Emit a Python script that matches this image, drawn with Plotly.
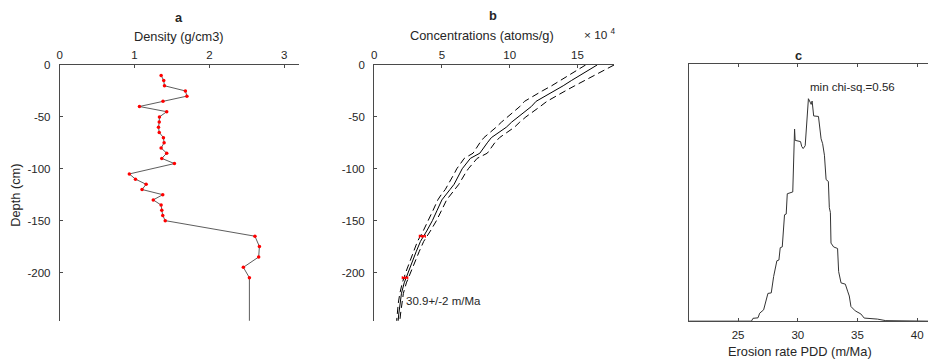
import plotly.graph_objects as go

# ---------------- data ----------------
# panel a: density profile
dens_depth = [-10, -15, -20, -25, -30, -35, -40, -45, -50, -55, -60, -65, -70, -75, -80, -85,
              -90, -95, -105, -110, -115, -120, -125, -130, -135, -140, -145, -150, -165, -175,
              -185, -195, -205]
dens_val = [1.355, 1.39, 1.40, 1.68, 1.70, 1.38, 1.065, 1.43, 1.333, 1.33, 1.32, 1.33, 1.386, 1.395,
            1.355, 1.43, 1.364, 1.533, 0.93, 1.012, 1.155, 1.10, 1.377, 1.25, 1.355, 1.364, 1.377,
            1.41, 2.61, 2.67, 2.66, 2.455, 2.536]
dens_tail_depth = [-250]
dens_tail_val = [2.536]

# panel b: modelled concentration profiles (x 10^4 atoms/g)
conc_depth = [0, -5, -10, -15, -20, -25, -30, -35, -40, -45, -50, -55, -60, -65, -70, -75, -80, -85,
              -90, -95, -100, -105, -110, -115, -120, -125, -130, -140, -150, -160, -170, -180, -190,
              -200, -210, -220, -230, -240, -250]
conc_best = [16.45, 15.8, 15.1, 14.55, 13.95, 13.3, 12.6, 11.95, 11.6, 11.1, 10.6, 10.15, 9.75, 9.2,
             8.65, 8.35, 8.05, 7.8, 7.1, 6.8, 6.5, 6.3, 6.1, 5.9, 5.6, 5.3, 5.0, 4.65, 4.3, 3.88,
             3.42, 3.1, 2.8, 2.5, 2.22, 2.02, 1.9, 1.82, 1.75]
conc_low = [15.6, 15.0, 14.4, 13.75, 13.1, 12.4, 11.7, 11.1, 10.75, 10.3, 9.8, 9.4, 9.0, 8.55,
            8.1, 7.8, 7.55, 7.3, 6.65, 6.35, 6.1, 5.9, 5.7, 5.5, 5.25, 4.95, 4.7, 4.35, 4.0, 3.62,
            3.2, 2.9, 2.6, 2.33, 2.08, 1.9, 1.78, 1.7, 1.64]
conc_high = [17.7, 16.95, 16.2, 15.5, 14.8, 14.1, 13.45, 12.75, 12.25, 11.7, 11.2, 10.75, 10.35, 9.8,
             9.25, 8.9, 8.6, 8.35, 7.6, 7.25, 6.95, 6.7, 6.5, 6.25, 5.95, 5.65, 5.35, 4.98, 4.6,
             4.15, 3.66, 3.32, 3.0, 2.68, 2.38, 2.16, 2.03, 1.95, 1.87]
meas_depth = [-165, -205]
meas_conc = [3.56, 2.28]
meas_err = [0.22, 0.2]

# panel c: erosion-rate probability distribution (normalised)
rate = [20.9, 26.12, 26.25, 26.67, 26.81, 27.14, 27.5, 27.78, 27.98, 28.25, 28.42, 28.53, 28.70,
        28.89, 29.03, 29.12, 29.58, 29.73, 29.78, 30.23, 30.33, 30.45, 30.62, 30.70, 30.89, 31.03,
        31.12, 31.20, 31.25, 31.33, 31.73, 31.81, 31.95, 32.08, 32.23, 32.37, 32.56, 32.64, 32.73,
        32.78, 33.0, 33.33, 33.42, 33.62, 33.98, 34.17, 34.31, 34.45, 34.81, 35.28, 35.56, 36.67,
        37.37, 40.9]
pdd = [0, 0, 0.011, 0.013, 0.031, 0.044, 0.108, 0.110, 0.174, 0.235, 0.238, 0.286, 0.289, 0.414,
       0.417, 0.496, 0.503, 0.748, 0.704, 0.699, 0.680, 0.672, 0.683, 0.745, 0.866, 0.853, 0.844,
       0.857, 0.838, 0.799, 0.797, 0.761, 0.710, 0.691, 0.646, 0.551, 0.544, 0.442, 0.423, 0.304,
       0.289, 0.283, 0.193, 0.149, 0.144, 0.117, 0.098, 0.057, 0.040, 0.028, 0.012, 0.008, 0.002, 0]

depth_ticks = [0, -50, -100, -150, -200]
depth_ticktext = ["0", "-50", "-100", "-150", "-200"]
dens_ticks = [0, 1, 2, 3]
conc_ticks = [0, 5, 10, 15]
rate_ticks = [25, 30, 35, 40]

# ---------------- figure ----------------
W, H = 928, 360
FONT = "Liberation Sans, Arial, Helvetica, sans-serif"
TXT = "#262626"
AX = "#4a4a4a"
TICK_FS = 11.5
LAB_FS = 12.8

fig = go.Figure()

fig.add_trace(go.Scatter(x=dens_val + dens_tail_val, y=dens_depth + dens_tail_depth, mode="lines",
                         line=dict(color="#333333", width=0.8), xaxis="x", yaxis="y",
                         showlegend=False, hoverinfo="skip"))
fig.add_trace(go.Scatter(x=dens_val, y=dens_depth, mode="markers",
                         marker=dict(color="red", size=3.5), xaxis="x", yaxis="y",
                         showlegend=False))

for vals, dash in [(conc_low, "7px,4px"), (conc_best, "solid"), (conc_high, "7px,4px")]:
    fig.add_trace(go.Scatter(x=vals, y=conc_depth, mode="lines",
                             line=dict(color="black", width=1, dash=dash),
                             xaxis="x2", yaxis="y2", showlegend=False))
fig.add_trace(go.Scatter(x=meas_conc, y=meas_depth, mode="markers",
                         marker=dict(color="red", size=3),
                         error_x=dict(type="data", array=meas_err, color="red", thickness=1.2, width=1.5),
                         xaxis="x2", yaxis="y2", showlegend=False))

fig.add_trace(go.Scatter(x=rate, y=pdd, mode="lines", line=dict(color="#333333", width=1),
                         xaxis="x3", yaxis="y3", showlegend=False))

ytop, ybot = 60, 320
ydom = [(H - ybot) / H, (H - ytop) / H]

common_tick = dict(tickfont=dict(family=FONT, size=TICK_FS, color=TXT), showgrid=False,
                   zeroline=False, showline=True, linecolor=AX, linewidth=1,
                   ticks="inside", ticklen=3, tickcolor=AX)

fig.update_layout(
    width=W, height=H, margin=dict(l=0, r=0, t=0, b=0),
    paper_bgcolor="white", plot_bgcolor="white",
    font=dict(family=FONT, color=TXT),
    xaxis=dict(domain=[57 / W, 297 / W], range=[0, 3.2], side="top", anchor="y",
               tickvals=dens_ticks, **common_tick),
    yaxis=dict(domain=ydom, range=[-246.4, 0], anchor="x", tickvals=depth_ticks,
               ticktext=depth_ticktext, ticklabelstandoff=6, **common_tick),
    xaxis2=dict(domain=[372.3 / W, 613.3 / W], range=[0, 17.72], side="top", anchor="y2",
                tickvals=conc_ticks, **common_tick),
    yaxis2=dict(domain=ydom, range=[-246.4, 0], anchor="x2", tickvals=depth_ticks,
                ticktext=depth_ticktext, ticklabelstandoff=6, **common_tick),
    xaxis3=dict(domain=[688.3 / W, 1.0], range=[20.9, 40.9], side="bottom", anchor="y3",
                tickvals=rate_ticks, mirror="ticks", ticklabelstandoff=3, **common_tick),
    yaxis3=dict(domain=[(H - 320.5) / H, (H - 59.3) / H], range=[0, 1], anchor="x3",
                showticklabels=False, showgrid=False, zeroline=False, showline=True,
                linecolor=AX, linewidth=1, ticks=""),
)

def ann(text, x, y, size=LAB_FS, xanchor="center", bold=False, angle=0):
    fig.add_annotation(text=("<b>%s</b>" % text) if bold else text,
                       x=x / W, y=1 - y / H, xref="paper", yref="paper",
                       xanchor=xanchor, yanchor="middle", showarrow=False, textangle=angle,
                       font=dict(family=FONT, size=size, color=TXT))

ann("a", 177, 12, bold=True)
ann("Density (g/cm3)", 177, 31)
ann("b", 492, 10, bold=True)
ann("Concentrations (atoms/g)", 481, 30)
ann("\u00d7 10 <sup>4</sup>", 581, 29, size=LAB_FS - 1, xanchor="left")
ann("c", 798, 50, bold=True)
ann("Depth (cm)", 13, 192, angle=-90)
ann("30.9+/-2 m/Ma", 402, 300, size=TICK_FS, xanchor="left")
ann("min chi-sq.=0.56", 808, 82, size=TICK_FS, xanchor="left")
ann("Erosion rate PDD (m/Ma)", 800, 351)

fig.write_html("out.html", config={"displayModeBar": False},
               post_script="document.body.style.margin='0';document.body.style.overflow='hidden';")
